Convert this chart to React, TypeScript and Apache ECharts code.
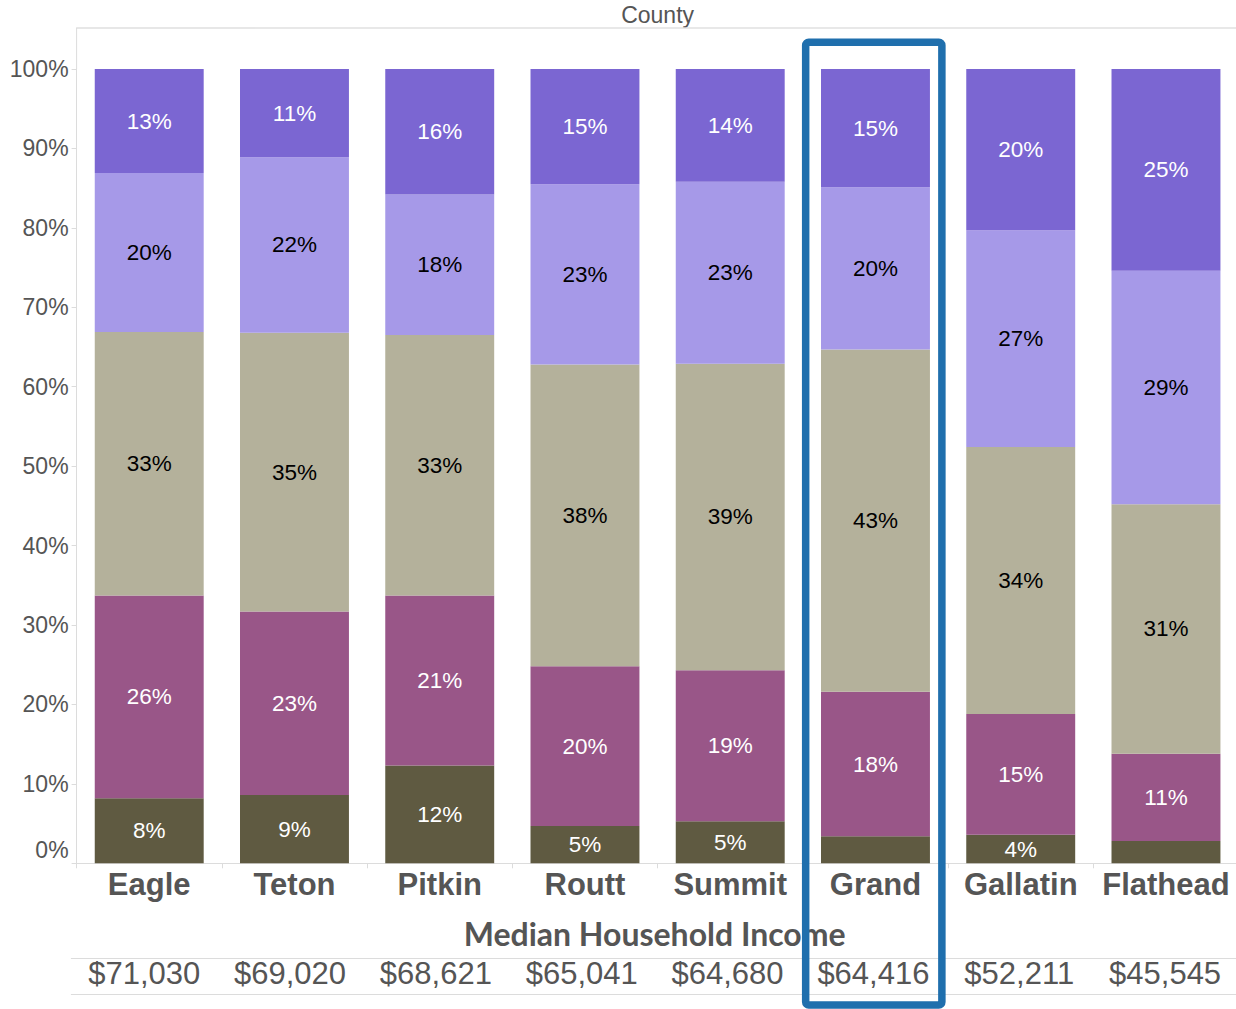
import React, { useEffect, useRef } from "react";
import * as echarts from "echarts";

const counties = ["Eagle", "Teton", "Pitkin", "Routt", "Summit", "Grand", "Gallatin", "Flathead"];
const incomes = ["$71,030", "$69,020", "$68,621", "$65,041", "$64,680", "$64,416", "$52,211", "$45,545"];
const yTicks = [0, 10, 20, 30, 40, 50, 60, 70, 80, 90, 100];

// shares per county, bottom segment to top segment (percent)
const seg1 = [8.2, 8.6, 12.3, 4.7, 5.3, 3.4, 3.6, 2.8];
const seg2 = [25.5, 23.1, 21.4, 20.1, 19.0, 18.2, 15.2, 11.0];
const seg3 = [33.2, 35.1, 32.8, 38.0, 38.6, 43.1, 33.6, 31.4];
const seg4 = [20.0, 22.1, 17.7, 22.7, 22.9, 20.4, 27.3, 29.4];
const seg5 = [13.1, 11.1, 15.8, 14.5, 14.2, 14.9, 20.3, 25.4];

const segments = [
  { name: "Segment 1", data: seg1, color: "#5f5a41", text: "#ffffff" },
  { name: "Segment 2", data: seg2, color: "#995688", text: "#ffffff" },
  { name: "Segment 3", data: seg3, color: "#b4b19b", text: "#000000" },
  { name: "Segment 4", data: seg4, color: "#a699e8", text: "#000000" },
  { name: "Segment 5", data: seg5, color: "#7b66d2", text: "#ffffff" },
];

const highlighted = "Grand";
const FONT = "'Liberation Sans', Arial, sans-serif";
const GRAY = "#555555";
const LINE = "#dcdcdc";

export default function App() {
  const ref = useRef<HTMLDivElement>(null);

  useEffect(() => {
    if (!ref.current) return;
    const chart = echarts.init(ref.current, null, { renderer: "svg" });
    const option: any = {
      animation: false,
      backgroundColor: "#ffffff",
      grid: [
        { left: 76.6, top: 69, width: 1162, height: 794.3, containLabel: false, outerBoundsMode: "none" },
        { left: 71.3, top: 958.3, width: 1166.7, height: 36, containLabel: false, outerBoundsMode: "none" },
      ],
      xAxis: [
        {
          type: "category",
          gridIndex: 0,
          position: "bottom",
          data: counties,
          axisLine: { show: true, lineStyle: { color: LINE, width: 1 } },
          axisTick: { show: true, length: 5, lineStyle: { color: LINE } },
          axisLabel: {
            interval: 0,
            margin: 6,
            fontSize: 31,
            fontWeight: "bold",
            color: GRAY,
            fontFamily: FONT,
          },
          splitLine: { show: false },
        },
        {
          type: "category",
          gridIndex: 0,
          position: "top",
          offset: 41,
          data: counties,
          axisLine: { show: true, lineStyle: { color: "#e0e0e0", width: 1.5 } },
          axisTick: { show: false },
          axisLabel: { show: false },
          name: "County",
          nameLocation: "middle",
          nameGap: 2,
          nameTextStyle: { fontSize: 23, color: GRAY, fontFamily: FONT },
        },
        {
          type: "category",
          gridIndex: 1,
          position: "bottom",
          data: incomes,
          axisLine: { show: true, lineStyle: { color: LINE, width: 1 } },
          axisTick: { show: false },
          axisLabel: {
            inside: true,
            interval: 0,
            margin: 5,
            fontSize: 31,
            color: GRAY,
            fontFamily: FONT,
          },
        },
        {
          type: "category",
          gridIndex: 1,
          position: "top",
          data: incomes,
          axisLine: { show: true, lineStyle: { color: LINE, width: 1 } },
          axisTick: { show: false },
          axisLabel: { show: false },
          name: "Median Household Income",
          nameLocation: "middle",
          nameGap: 9,
          nameTextStyle: {
            fontSize: 32,
            fontWeight: "bold",
            color: GRAY,
            fontFamily: "Lato, 'Open Sans', sans-serif",
          },
        },
      ],
      yAxis: [
        {
          type: "value",
          gridIndex: 0,
          min: yTicks[0],
          max: yTicks[yTicks.length - 1],
          interval: 10,
          axisLine: { show: true, lineStyle: { color: LINE } },
          axisTick: { show: true, length: 5, lineStyle: { color: LINE } },
          splitLine: { show: false },
          axisLabel: {
            margin: 8,
            fontSize: 23,
            color: GRAY,
            fontFamily: FONT,
            formatter: (v: number) => (v === 0 ? "{z|0%}" : `${v}%`),
            rich: {
              z: { fontSize: 23, color: GRAY, fontFamily: FONT, padding: [0, 0, 26, 0] },
            },
          },
        },
        { type: "value", gridIndex: 1, show: false },
      ],
      series: segments.map((s) => ({
        name: s.name,
        type: "bar",
        stack: "total",
        xAxisIndex: 0,
        yAxisIndex: 0,
        barWidth: "75%",
        data: s.data,
        itemStyle: { color: s.color },
        label: {
          show: true,
          position: "inside",
          fontSize: 22.5,
          color: s.text,
          fontFamily: FONT,
          formatter: (p: any) => (p.value >= 3.5 ? `${Math.round(p.value)}%` : ""),
        },
      })),
    };
    chart.setOption(option);

    const cx = chart.convertToPixel({ xAxisIndex: 0 }, highlighted) as number;
    const topY = chart.convertToPixel({ yAxisIndex: 0 }, 100) as number;
    const gridLeft = 76.6;
    chart.setOption({
      graphic: [
        {
          type: "line",
          z: 10,
          shape: { x1: gridLeft, y1: 28, x2: gridLeft, y2: topY },
          style: { stroke: LINE, lineWidth: 1 },
        },
        {
          type: "rect",
          z: 100,
          shape: { x: cx - 69.8, y: 42.3, width: 136.2, height: 962.7, r: 3 },
          style: { fill: "none", stroke: "#1f6fad", lineWidth: 7.5 },
        },
      ],
    });

    return () => chart.dispose();
  }, []);

  return (
    <div
      ref={ref}
      style={{ position: "fixed", left: 0, top: 0, width: 1236, height: 1009, background: "#fff" }}
    />
  );
}
